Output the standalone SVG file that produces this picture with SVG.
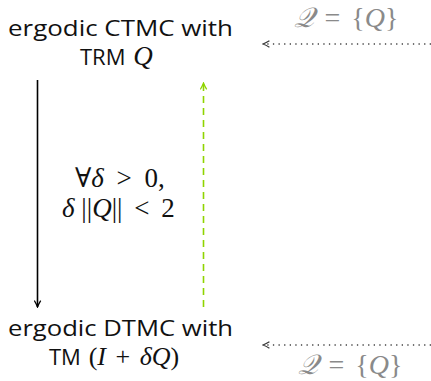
<svg xmlns="http://www.w3.org/2000/svg" width="431" height="381" viewBox="0 0 431 381">
<style>
.t{font-family:"Open Sans","Noto Sans",sans-serif;font-size:22px;fill:#111}
.m{font-family:"Liberation Serif","DejaVu Serif",serif;fill:#111}
.i{font-style:italic}
.mt{font-family:"Liberation Serif","DejaVu Serif",serif;font-size:27px;fill:#111}
.g{font-family:"Liberation Serif","DejaVu Serif",serif;font-size:28px;fill:#8a8a8a}
.solid{stroke:#000;stroke-width:1.6;fill:none}
.dash{stroke:#8fd400;stroke-width:1.6;fill:none;stroke-dasharray:7,5}
.dot{stroke:#444;stroke-width:1.3;fill:none;stroke-dasharray:1.3,4.3}
</style>
<defs>
<marker id="ab" viewBox="0 0 10 10" refX="9" refY="5" markerWidth="8" markerHeight="8" orient="auto" markerUnits="userSpaceOnUse">
<path d="M1,1 Q5,3.5 9,5 Q5,6.5 1,9" fill="none" stroke="#000" stroke-width="1.6"/>
</marker>
<marker id="ag" viewBox="0 0 10 10" refX="9" refY="5" markerWidth="8" markerHeight="8" orient="auto" markerUnits="userSpaceOnUse">
<path d="M1,1 Q5,3.5 9,5 Q5,6.5 1,9" fill="none" stroke="#8fd400" stroke-width="1.6"/>
</marker>
<marker id="ad" viewBox="0 0 10 10" refX="9" refY="5" markerWidth="8" markerHeight="8" orient="auto" markerUnits="userSpaceOnUse">
<path d="M1,1 Q5,3.5 9,5 Q5,6.5 1,9" fill="none" stroke="#333" stroke-width="1.6"/>
</marker>
</defs>
<g id="ctmc">
<text class="t" x="8" y="36" textLength="225" lengthAdjust="spacingAndGlyphs">ergodic CTMC with</text>
<text class="t" x="80" y="65">TRM <tspan class="m i" font-size="27" dx="2">Q</tspan></text>
</g>
<g id="dtmc">
<text class="t" x="8" y="336" textLength="225" lengthAdjust="spacingAndGlyphs">ergodic DTMC with</text>
<text class="t" x="49" y="365">TM <tspan class="m" font-size="26" dx="2">(<tspan class="i">I</tspan> <tspan dx="3">+</tspan> <tspan class="i" dx="3">δQ</tspan>)</tspan></text>
</g>
<g id="cond">
<text class="mt" x="75" y="187">∀<tspan class="i">δ</tspan> <tspan dx="6">&gt;</tspan> <tspan dx="6">0,</tspan></text>
<text class="mt" x="62" y="217"><tspan class="i">δ</tspan> ||<tspan class="i">Q</tspan>|| <tspan dx="5">&lt;</tspan> <tspan dx="5">2</tspan></text>
</g>
<g id="q-top">
<text class="g" x="346" y="27" text-anchor="middle"><tspan class="i">𝒬</tspan> <tspan dx="4">=</tspan> <tspan dx="4">{</tspan><tspan class="i">Q</tspan>}</text>
</g>
<g id="q-bottom">
<text class="g" x="350" y="374" text-anchor="middle"><tspan class="i">𝒬</tspan> <tspan dx="4">=</tspan> <tspan dx="4">{</tspan><tspan class="i">Q</tspan>}</text>
</g>
<g id="connectors">
<line class="solid" x1="37.5" y1="80" x2="37.5" y2="307" marker-end="url(#ab)"/>
<line class="dash" x1="203.5" y1="307" x2="203.5" y2="83" marker-end="url(#ag)"/>
<line class="dot" x1="431" y1="44" x2="263" y2="44" marker-end="url(#ad)"/>
<line class="dot" x1="431" y1="345" x2="263" y2="345" marker-end="url(#ad)"/>
</g>
</svg>
